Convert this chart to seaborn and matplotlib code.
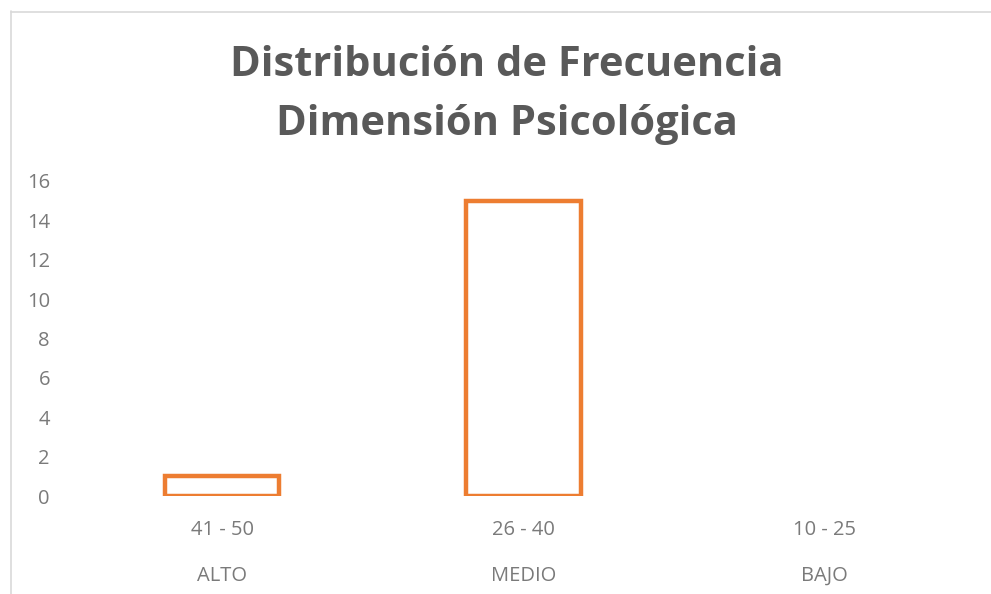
import matplotlib
matplotlib.use("Agg")
import matplotlib.pyplot as plt
from matplotlib.lines import Line2D
import seaborn as sns
import pandas as pd

rangos = ["41 - 50", "26 - 40", "10 - 25"]
niveles = ["ALTO", "MEDIO", "BAJO"]
frecuencia = [1, 15, 0]
yticks = [0, 2, 4, 6, 8, 10, 12, 14, 16]
titulo = "Distribución de Frecuencia\nDimensión Psicológica"

sns.set_theme(style="white")
plt.rcParams['font.family'] = ['Open Sans', 'DejaVu Sans']

W, H = 991, 594
fig = plt.figure(figsize=(W / 100, H / 100), dpi=100)
ax = fig.add_axes([71.5 / W, 98 / H, (975.5 - 71.5) / W, (413 - 98) / H])

df = pd.DataFrame({"rango": rangos, "frecuencia": frecuencia})
sns.barplot(data=df, x="rango", y="frecuencia", order=rangos, ax=ax,
            fill=False, color="#ED7D31", width=0.38, linewidth=3.2,
            errorbar=None)
for p in ax.patches:
    p.set_edgecolor("#ED7D31")
    p.set_facecolor("none")
    if p.get_height() == 0:
        p.set_visible(False)

ax.set_ylim(0, 16)
ax.set_yticks(yticks)
ax.set_yticklabels([str(t) for t in yticks])
ax.set_xlim(-0.5, 2.5)
ax.set_xlabel("")
ax.set_ylabel("")
for s in ax.spines.values():
    s.set_visible(False)
ax.tick_params(axis="y", length=0, pad=15.5, labelsize=14.5, labelcolor="#7a7a7a")
ax.tick_params(axis="x", length=0, pad=17, labelsize=14.5, labelcolor="#7a7a7a")
for lbl in ax.get_yticklabels():
    lbl.set_horizontalalignment("right")

for i, n in enumerate(niveles):
    ax.annotate(n, xy=(i, 0), xycoords=("data", "axes fraction"),
                xytext=(0, -80), textcoords="offset pixels",
                ha="center", va="center", fontsize=14.5, color="#7a7a7a")

fig.text(0.5 * (228 + 785) / W, 1 - 95 / H, titulo, ha="center", va="center",
         fontsize=30, fontweight="bold", color="#595959", linespacing=1.58)

# chart area frame (light gray)
fig.add_artist(Line2D([10.5 / W, 10.5 / W], [0, 1 - 11 / H], transform=fig.transFigure,
                      color="#d9d9d9", lw=1.2))
fig.add_artist(Line2D([10.5 / W, 1], [1 - 11.5 / H, 1 - 11.5 / H], transform=fig.transFigure,
                      color="#d9d9d9", lw=1.2))

fig.savefig("out.png", dpi=100)
